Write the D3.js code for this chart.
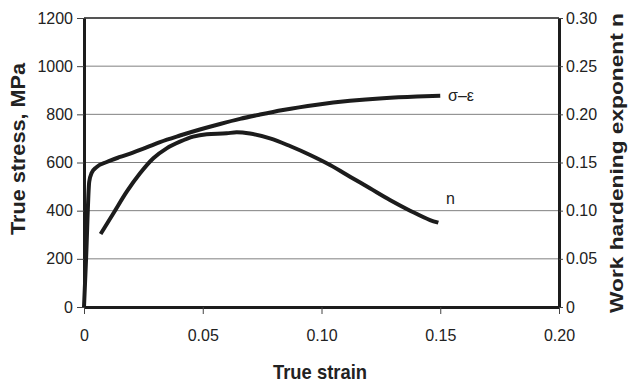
<!DOCTYPE html>
<html>
<head>
<meta charset="utf-8">
<script src="https://cdn.jsdelivr.net/npm/d3@7"></script>
<style>
  html, body { margin: 0; padding: 0; background: #fff; }
  svg { display: block; }
</style>
</head>
<body>
<div id="chart"></div>
<script>
// Stress-strain curve (sigma-epsilon), left axis
const stressStrain = [0, 0.0009, 0.0022, 0.0032, 0.0053, 0.0096, 0.0152, 0.0206, 0.0236, 0.032,
  0.0404, 0.0488, 0.0573, 0.0657, 0.0741, 0.0838, 0.0981, 0.112, 0.1259, 0.1402, 0.15];
const stressValues = [0, 207, 520, 556, 581, 602, 623, 641, 652, 685,
  712, 737, 760, 781, 799, 818, 840, 856, 867, 874, 877];

// Work hardening exponent n, right axis
const nStrain = [0.007, 0.0124, 0.018, 0.0236, 0.0292, 0.0348, 0.0404, 0.046, 0.0517, 0.0601, 0.0643,
  0.0699, 0.0783, 0.0867, 0.0952, 0.1036, 0.112, 0.1204, 0.1288, 0.1373, 0.1457, 0.1492];
const nValues = [0.0758, 0.0973, 0.1197, 0.1388, 0.1544, 0.1647, 0.1716, 0.1768, 0.1793, 0.1803, 0.1813,
  0.18, 0.1751, 0.1671, 0.1578, 0.1474, 0.1353, 0.1232, 0.1111, 0.1, 0.0903, 0.0875];

// Tick labels
const xTicks = [0, 0.05, 0.10, 0.15, 0.20];
const xTickLabels = ['0', '0.05', '0.10', '0.15', '0.20'];
const stressTicks = [0, 200, 400, 600, 800, 1000, 1200];
const stressTickLabels = ['0', '200', '400', '600', '800', '1000', '1200'];
const nTicks = [0, 0.05, 0.10, 0.15, 0.20, 0.25, 0.30];
const nTickLabels = ['0', '0.05', '0.10', '0.15', '0.20', '0.25', '0.30'];

const W = 628, H = 384;
const plotLeft = 84, plotRight = 559, plotTop = 18, plotBottom = 307;
const ink = '#1c1c1c';
const font = '"Liberation Sans", Arial, sans-serif';

const svg = d3.select('#chart').append('svg')
  .attr('width', W)
  .attr('height', H)
  .attr('viewBox', `0 0 ${W} ${H}`);

const x = d3.scaleLinear().domain([0, 0.2]).range([plotLeft, plotRight]);
const yS = d3.scaleLinear().domain([0, 1200]).range([plotBottom, plotTop]);
const yN = d3.scaleLinear().domain([0, 0.3]).range([plotBottom, plotTop]);

// Horizontal grid lines
svg.append('g')
  .selectAll('line')
  .data(stressTicks.slice(1, -1))
  .enter()
  .append('line')
  .attr('x1', plotLeft)
  .attr('x2', plotRight)
  .attr('y1', d => yS(d))
  .attr('y2', d => yS(d))
  .style('stroke', '#808080')
  .style('stroke-width', 1);

// Top border
svg.append('line')
  .attr('x1', plotLeft).attr('x2', plotRight)
  .attr('y1', yS(1200)).attr('y2', yS(1200))
  .style('stroke', ink)
  .style('stroke-width', 1.5);

const styleAxis = (g, domainWidth) => {
  g.select('.domain').style('stroke', ink).style('stroke-width', domainWidth);
  g.selectAll('.tick line').style('stroke', '#444').style('stroke-width', 1);
  g.selectAll('text')
    .style('fill', '#222')
    .style('font-family', font)
    .style('font-size', '16px');
};

// X axis
svg.append('g')
  .attr('transform', `translate(0, ${plotBottom})`)
  .call(d3.axisBottom(x).tickValues(xTicks).tickFormat((d, i) => xTickLabels[i])
    .tickSizeInner(7).tickSizeOuter(0).tickPadding(16))
  .call(g => styleAxis(g, 3));

// Left axis
svg.append('g')
  .attr('transform', `translate(${plotLeft}, 0)`)
  .call(d3.axisLeft(yS).tickValues(stressTicks).tickFormat((d, i) => stressTickLabels[i])
    .tickSizeInner(7).tickSizeOuter(0).tickPadding(4))
  .call(g => styleAxis(g, 3));

// Right axis
svg.append('g')
  .attr('transform', `translate(${plotRight}, 0)`)
  .call(d3.axisRight(yN).tickValues(nTicks).tickFormat((d, i) => nTickLabels[i])
    .tickSizeInner(4).tickSizeOuter(0).tickPadding(3))
  .call(g => styleAxis(g, 3));

// Curves
const stressLine = d3.line()
  .x(d => x(d[0]))
  .y(d => yS(d[1]))
  .curve(d3.curveMonotoneX);

const nLine = d3.line()
  .x(d => x(d[0]))
  .y(d => yN(d[1]))
  .curve(d3.curveMonotoneX);

svg.append('path')
  .datum(stressStrain.map((s, i) => [s, stressValues[i]]))
  .attr('d', stressLine)
  .style('fill', 'none')
  .style('stroke', ink)
  .style('stroke-width', 4)
  .style('stroke-linejoin', 'round');

svg.append('path')
  .datum(nStrain.map((s, i) => [s, nValues[i]]))
  .attr('d', nLine)
  .style('fill', 'none')
  .style('stroke', ink)
  .style('stroke-width', 4)
  .style('stroke-linejoin', 'round');

// Curve labels
svg.append('text')
  .attr('x', 448)
  .attr('y', 101)
  .style('font-family', font)
  .style('font-size', '16px')
  .style('fill', '#222')
  .text('σ–ε');

svg.append('text')
  .attr('x', 446)
  .attr('y', 204)
  .style('font-family', font)
  .style('font-size', '16px')
  .style('fill', '#222')
  .text('n');

// Axis titles
svg.append('text')
  .attr('x', 320)
  .attr('y', 379)
  .attr('text-anchor', 'middle')
  .attr('textLength', 94)
  .attr('lengthAdjust', 'spacingAndGlyphs')
  .style('font-family', font)
  .style('font-weight', 'bold')
  .style('font-size', '21px')
  .style('fill', '#222')
  .text('True strain');

svg.append('text')
  .attr('transform', 'translate(25, 149) rotate(-90)')
  .attr('text-anchor', 'middle')
  .attr('textLength', 172)
  .attr('lengthAdjust', 'spacingAndGlyphs')
  .style('font-family', font)
  .style('font-weight', 'bold')
  .style('font-size', '20px')
  .style('fill', '#222')
  .text('True stress, MPa');

svg.append('text')
  .attr('transform', 'translate(623, 163) rotate(-90)')
  .attr('text-anchor', 'middle')
  .attr('textLength', 300)
  .attr('lengthAdjust', 'spacingAndGlyphs')
  .style('font-family', font)
  .style('font-weight', 'bold')
  .style('font-size', '18px')
  .style('fill', '#222')
  .text('Work hardening exponent n');
</script>
</body>
</html>
